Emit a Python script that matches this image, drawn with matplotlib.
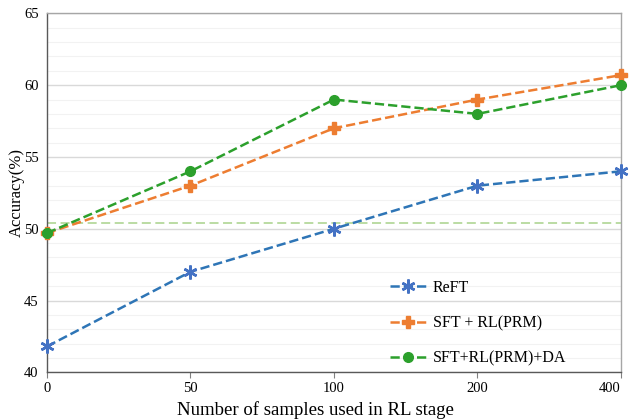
import matplotlib
matplotlib.use("Agg")
import matplotlib.pyplot as plt
from matplotlib.ticker import MultipleLocator

plt.rcParams['font.family'] = ['Liberation Serif', 'DejaVu Serif']

categories = ["0", "50", "100", "200", "400"]
reft = [41.8, 47, 50, 53, 54]
sft_rl = [49.7, 53, 57, 59, 60.7]
sft_rl_da = [49.7, 54, 59, 58, 60]
baseline = 50.4

fig = plt.figure(figsize=(6.29, 4.19), dpi=100)
ax = fig.add_axes([0.0747, 0.1115, 0.9125, 0.8565])

x = list(range(len(categories)))

ax.axhline(baseline, color='#b5d99c', lw=1.3, ls=(0, (5, 2.5)), zorder=2)

ax.plot(x, reft, ls='--', color='#2e75b6', lw=1.8, marker=(6, 2, 0), ms=10,
        mec='#4472c4', mfc='#4472c4', mew=1.8, label='ReFT', clip_on=False, zorder=3)
ax.plot(x, sft_rl, ls='--', color='#ed7d31', lw=1.8, marker='P', ms=8,
        mec='#ed7d31', mfc='#ed7d31', label='SFT + RL(PRM)', clip_on=False, zorder=3)
ax.plot(x, sft_rl_da, ls='--', color='#2ca02c', lw=1.8, marker='o', ms=7,
        mec='#2ca02c', mfc='#2ca02c', label='SFT+RL(PRM)+DA', clip_on=False, zorder=4)

ax.set_xlim(0, 4)
ax.set_ylim(40, 65)
ax.set_xticks(x)
ax.set_xticklabels(categories)
ax.yaxis.set_major_locator(MultipleLocator(5))
ax.yaxis.set_minor_locator(MultipleLocator(1))
ax.grid(which='major', axis='y', color='#d9d9d9', lw=1.0, zorder=0)
ax.grid(which='minor', axis='y', color='#f2f2f2', lw=0.8, zorder=0)
ax.set_axisbelow(True)

ax.tick_params(axis='y', which='both', length=0, pad=6, labelsize=10.5)
ax.tick_params(axis='x', length=4, color='#808080', pad=3, labelsize=10.5)
for lbl in ax.get_xticklabels():
    if lbl.get_text() == "400":
        lbl.set_horizontalalignment('right')
        lbl.set_x(4)

for s in ['left', 'bottom']:
    ax.spines[s].set_color('#595959')
    ax.spines[s].set_linewidth(1.0)
for s in ['top', 'right']:
    ax.spines[s].set_color('#a6a6a6')
    ax.spines[s].set_linewidth(1.0)

fig.text(0.026, 0.541, 'Accuracy(%)', fontsize=12, rotation=90,
         ha='center', va='center')
fig.text(0.502, 0.022, 'Number of samples used in RL stage', fontsize=13.5,
         ha='center', va='center')

leg = ax.legend(loc='lower left', bbox_to_anchor=(0.572, -0.025), frameon=False,
                fontsize=11.5, labelspacing=1.22, handlelength=2.3, handletextpad=0.4)

fig.savefig('out.png', dpi=100)
